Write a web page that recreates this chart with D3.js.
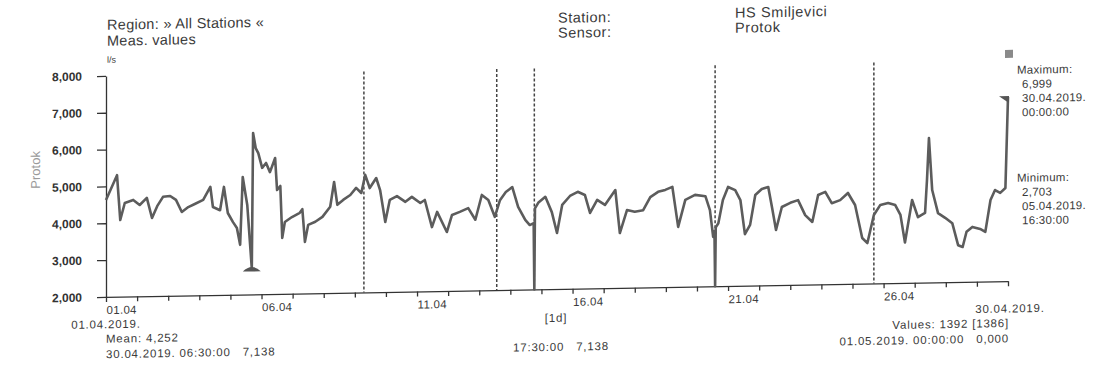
<!DOCTYPE html>
<html>
<head>
<meta charset="utf-8">
<script src="https://cdn.jsdelivr.net/npm/d3@7"></script>
<style>
  body { margin: 0; background: #fff; }
  svg { font-family: "Liberation Sans", Arial, sans-serif; }
  text { fill: #3a3a3a; white-space: pre; }
</style>
</head>
<body>
<svg width="1095" height="365"></svg>
<script>
// Protok, HS Smiljevici, April 2019
const flowTimes = [
  "01.04 00:00","01.04 08:30","01.04 11:00","01.04 14:30","01.04 21:00","02.04 02:00","02.04 07:30","02.04 11:30",
  "02.04 15:30","02.04 20:00","03.04 01:30","03.04 06:00","03.04 10:30","03.04 15:30","03.04 20:30","04.04 03:00",
  "04.04 08:30","04.04 10:30","04.04 16:00","04.04 19:00","04.04 22:00","05.04 02:00","05.04 05:00","05.04 07:30",
  "05.04 09:30","05.04 13:00","05.04 16:30","05.04 17:30","05.04 19:30","05.04 21:30","06.04 00:30","06.04 03:30",
  "06.04 06:30","06.04 10:30","06.04 12:00","06.04 14:30","06.04 16:00","06.04 18:00","06.04 23:30","07.04 05:30",
  "07.04 07:30","07.04 09:30","07.04 12:00","07.04 17:30","07.04 23:00","08.04 05:00","08.04 08:00","08.04 10:30",
  "08.04 15:00","08.04 20:30","09.04 01:00","09.04 05:00","09.04 08:00","09.04 11:30","09.04 16:30","09.04 19:30",
  "09.04 23:30","10.04 03:00","10.04 08:30","10.04 15:00","10.04 20:00","11.04 02:30","11.04 06:00","11.04 11:30",
  "11.04 15:30","11.04 23:00","12.04 03:00","12.04 09:00","12.04 15:30","12.04 21:00","13.04 02:00","13.04 07:00",
  "13.04 12:00","13.04 16:00","13.04 20:30","14.04 01:30","14.04 06:00","14.04 11:30","14.04 15:00","14.04 18:00",
  "14.04 18:30","14.04 19:00","14.04 21:30","15.04 03:00","15.04 08:00","15.04 12:00","15.04 16:00","15.04 22:00",
  "16.04 04:00","16.04 09:30","16.04 13:30","16.04 19:00","17.04 01:00","17.04 09:00","17.04 12:30","17.04 18:00",
  "18.04 00:00","18.04 06:30","18.04 12:00","18.04 18:00","18.04 23:30","19.04 05:00","19.04 09:30","19.04 15:00",
  "19.04 22:30","20.04 06:30","20.04 10:00","20.04 12:30","20.04 13:30","20.04 14:00","20.04 14:30","20.04 16:30",
  "20.04 20:00","21.04 00:00","21.04 05:30","21.04 09:30","21.04 13:00","21.04 17:00","21.04 21:00","22.04 02:00",
  "22.04 07:00","22.04 10:00","22.04 13:00","22.04 17:30","23.04 00:00","23.04 06:00","23.04 11:30","23.04 17:00",
  "23.04 21:30","24.04 03:00","24.04 08:00","24.04 14:30","24.04 20:30","25.04 02:00","25.04 07:30","25.04 11:30",
  "25.04 16:30","25.04 21:30","26.04 03:30","26.04 09:00","26.04 13:00","26.04 16:30","26.04 22:00","27.04 02:30",
  "27.04 08:00","27.04 09:30","27.04 11:00","27.04 13:30","27.04 18:00","27.04 23:30","28.04 05:00","28.04 09:30",
  "28.04 13:00","28.04 16:00","28.04 20:30","29.04 02:30","29.04 06:30","29.04 10:30","29.04 14:00","29.04 18:00",
  "29.04 22:00","30.04 00:00"
];
const flowValues = [
  4630, 5300, 4080, 4540, 4620, 4480, 4670, 4120,
  4440, 4690, 4710, 4600, 4270, 4400, 4480, 4590,
  4940, 4390, 4300, 4930, 4220, 3970, 3810, 3350,
  5190, 4430, 2703, 6380, 5970, 5830, 5430, 5560,
  5310, 5690, 4820, 4930, 3520, 3950, 4080, 4190,
  4290, 3400, 3860, 3940, 4070, 4340, 5010, 4390,
  4520, 4650, 4840, 4700, 5190, 4830, 5100, 4770,
  3900, 4500, 4600, 4440, 4570, 4400, 4480, 3740,
  4150, 3600, 4060, 4140, 4240, 3920, 4590, 4450,
  3990, 4440, 4660, 4790, 4250, 3890, 3750, 3800,
  0, 4200, 4350, 4510, 4090, 3520, 4280, 4520,
  4630, 4540, 4050, 4400, 4260, 4660, 3490, 4110,
  4060, 4100, 4450, 4590, 4640, 4720, 3630, 4360,
  4490, 4450, 4070, 3340, 3500, 0, 3600, 3710,
  4340, 4690, 4600, 4330, 3400, 3650, 4460, 4620,
  4670, 4100, 3500, 4120, 4230, 4300, 3890, 3700,
  4430, 4510, 4200, 4280, 4470, 4140, 3240, 3100,
  3860, 4130, 4180, 4120, 3850, 3100, 4250, 3780,
  3890, 4790, 5920, 4510, 3880, 3750, 3600, 3000,
  2950, 3360, 3490, 3430, 3350, 4210, 4480, 4400,
  4530, 6999
];

// dashed markers
const gapTimes = ["09.04 07:00", "13.04 13:30", "14.04 18:30", "20.04 14:00", "25.04 16:30"];

const yTicks = [2000, 3000, 4000, 5000, 6000, 7000, 8000];
const labelDays = ["01.04", "06.04", "11.04", "16.04", "21.04", "26.04"];
const axisStart = "01.04 00:00";
const axisEnd = "30.04 00:00";

const minPoint = { time: "05.04 16:30", value: 2703 };
const maxPoint = { time: "30.04 00:00", value: 6999 };

const headerLeft = ["Region: \u00bb All Stations \u00ab", "Meas. values"];
const headerKeys = ["Station:", "Sensor:"];
const headerVals = ["HS Smiljevici", "Protok"];
const unitLabel = "l/s";
const axisTitle = "Protok";
const footLeft = ["01.04.2019.", "Mean: 4,252", "30.04.2019. 06:30:00   7,138"];
const footMid = ["[1d]", "17:30:00   7,138"];
const footRight = ["30.04.2019.", "Values: 1392 [1386]", "01.05.2019. 00:00:00   0,000"];
const maxLines = ["Maximum:", "6,999", "30.04.2019.", "00:00:00"];
const minLines = ["Minimum:", "2,703", "05.04.2019.", "16:30:00"];

const parse = s => d3.timeParse("%d.%m.%Y %H:%M")(s.replace(" ", ".2019 "));
const data = flowTimes.map((t, i) => ({ t: parse(t), v: flowValues[i] }));

const svg = d3.select("svg");
// the print was scanned a little crooked
const root = svg.append("g").attr("transform", "translate(0,9.55) skewY(-1)");

const x = d3.scaleTime()
  .domain([parse(axisStart), parse(axisEnd)])
  .range([106, 1008]);

const y = d3.scaleLinear()
  .domain([2000, 8000])
  .range([289.2, 68.2])
  .clamp(true);

// header
root.append("g").selectAll("text")
  .data(headerLeft).enter().append("text")
  .attr("x", 107).attr("y", (d, i) => 17 + i * 16)
  .attr("dy", "0.35em")
  .style("font-size", "14.5px")
  .style("letter-spacing", "0.3px")
  .text(d => d);

root.append("g").selectAll("text")
  .data(headerKeys).enter().append("text")
  .attr("x", 558).attr("y", (d, i) => 18 + i * 15)
  .attr("dy", "0.35em")
  .style("font-size", "14.5px")
  .style("letter-spacing", "0.5px")
  .text(d => d);

root.append("g").selectAll("text")
  .data(headerVals).enter().append("text")
  .attr("x", 735).attr("y", (d, i) => 16 + i * 15)
  .attr("dy", "0.35em")
  .style("font-size", "14.5px")
  .style("letter-spacing", "0.6px")
  .text(d => d);

root.append("text")
  .attr("x", 107).attr("y", 52)
  .attr("dy", "0.35em")
  .style("font-size", "9px")
  .text(unitLabel);

root.append("text")
  .attr("transform", "translate(35,161) rotate(-90)")
  .attr("text-anchor", "middle")
  .attr("dy", "0.35em")
  .style("font-size", "13px")
  .style("fill", "#9a9a9a")
  .text(axisTitle);

// axes
const yAxis = root.append("g")
  .attr("transform", "translate(106,0)")
  .call(d3.axisLeft(y).tickValues(yTicks).tickSize(9).tickSizeOuter(0).tickPadding(15).tickFormat(d3.format(",")));
yAxis.selectAll("text").style("font-size", "12px").style("font-weight", "bold").style("fill", "#333");

const xAxis = root.append("g")
  .attr("transform", "translate(0,289.2)")
  .call(d3.axisBottom(x)
    .ticks(d3.timeDay.every(1))
    .tickSize(5)
    .tickSizeOuter(0)
    .tickFormat(d => {
      const s = d3.timeFormat("%d.%m")(d);
      return labelDays.includes(s) ? s : "";
    }));
xAxis.selectAll("text")
  .attr("text-anchor", "start")
  .attr("y", 9)
  .style("font-size", "11.5px")
  .style("letter-spacing", "0.3px")
  .style("fill", "#3a3a3a");

root.selectAll(".domain, .tick line").attr("stroke", "#333").attr("stroke-width", 1.3);

// dashed markers
root.append("g").selectAll("line")
  .data(gapTimes).enter().append("line")
  .attr("x1", d => x(parse(d))).attr("x2", d => x(parse(d)))
  .attr("y1", y(8000)).attr("y2", y(2000))
  .attr("stroke", "#444")
  .attr("stroke-width", 1.5)
  .attr("stroke-dasharray", "3,2");

// series
root.append("path")
  .datum(data)
  .attr("fill", "none")
  .attr("stroke", "#5c5c5c")
  .attr("stroke-width", 2.6)
  .attr("stroke-linejoin", "round")
  .attr("d", d3.line().x(d => x(d.t)).y(d => y(d.v)));

// min / max markers
const mnX = x(parse(minPoint.time)), mnY = y(minPoint.value);
root.append("path")
  .attr("d", `M${mnX - 9},${mnY + 3} Q${mnX},${mnY - 6} ${mnX + 9},${mnY + 3} Z`)
  .attr("fill", "#555");

const mxX = x(parse(maxPoint.time)), mxY = y(maxPoint.value);
root.append("path")
  .attr("d", `M${mxX - 9},${mxY - 1} L${mxX + 1},${mxY - 1} L${mxX + 1},${mxY + 6} Z`)
  .attr("fill", "#555");

root.append("rect")
  .attr("x", 1005).attr("y", 58)
  .attr("width", 8).attr("height", 8)
  .attr("fill", "#8a8a8a");

// side labels
const side = (lines, y0) => root.append("g").selectAll("text")
  .data(lines).enter().append("text")
  .attr("x", (d, i) => i === 0 ? 1017 : 1022)
  .attr("y", (d, i) => y0 + i * 14.2)
  .attr("dy", "0.35em")
  .style("font-size", "11.5px")
  .style("letter-spacing", "0.3px")
  .text(d => d);
side(maxLines, 78);
side(minLines, 186);

// footer
const foot = (lines, xs, anchor, ys) => root.append("g").selectAll("text")
  .data(lines).enter().append("text")
  .attr("x", (d, i) => xs[i])
  .attr("y", (d, i) => ys[i])
  .attr("dy", "0.35em")
  .attr("text-anchor", (d, i) => anchor[i])
  .style("font-size", "11.5px")
  .style("letter-spacing", "0.8px")
  .text(d => d);
foot(footLeft, [106, 106, 106], ["middle", "start", "start"], [316.5, 331, 346.5]);
foot(footMid, [556, 513], ["middle", "start"], [318, 347]);
foot(footRight, [1010, 1009, 1009], ["middle", "end", "end"], [316.5, 331, 346.5]);
</script>
</body>
</html>
